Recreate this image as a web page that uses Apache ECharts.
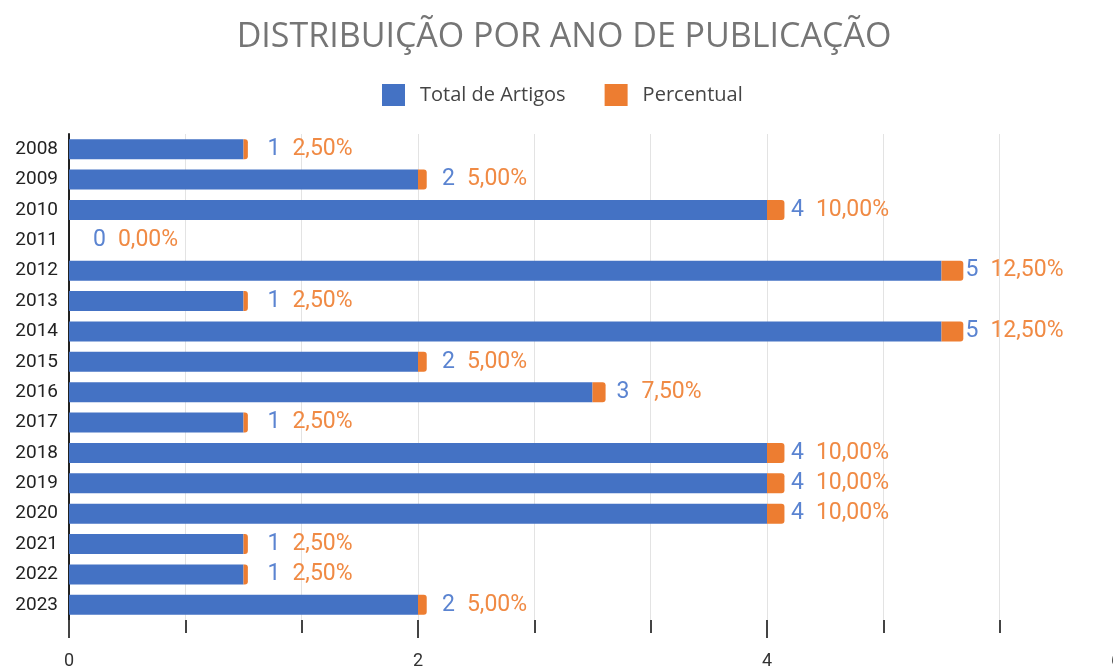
<!DOCTYPE html>
<html lang="pt">
<head>
<meta charset="UTF-8">
<title>Distribuição por ano de publicação</title>
<style>
  html, body { margin: 0; padding: 0; background: #fff; }
  #main { width: 1113px; height: 669px; }
</style>
</head>
<body>
<div id="main"></div>
<script src="https://cdn.jsdelivr.net/npm/echarts@6/dist/echarts.min.js"></script>
<script>
  var years = ['2008', '2009', '2010', '2011', '2012', '2013', '2014', '2015',
               '2016', '2017', '2018', '2019', '2020', '2021', '2022', '2023'];
  var totalArtigos = [1, 2, 4, 0, 5, 1, 5, 2, 3, 1, 4, 4, 4, 1, 1, 2];
  var percentual = [0.025, 0.05, 0.10, 0, 0.125, 0.025, 0.125, 0.05,
                    0.075, 0.025, 0.10, 0.10, 0.10, 0.025, 0.025, 0.05];
  var xTicks = [0, 2, 4, 6];

  var BLUE = '#4472c4';
  var ORANGE = '#ed7d31';

  function fmtPct(v) {
    return (v * 100).toFixed(2).replace('.', ',') + '%';
  }

  var myChart = echarts.init(document.getElementById('main'));
  var option = {
    animation: false,
    title: {
      text: 'DISTRIBUIÇÃO POR ANO DE PUBLICAÇÃO',
      left: 559,
      textAlign: 'center',
      top: 15,
      textStyle: {
        fontFamily: 'Open Sans',
        fontSize: 34,
        fontWeight: 'normal',
        color: '#757575'
      }
    },
    legend: {
      data: ['Total de Artigos', 'Percentual'],
      top: 79,
      left: 377,
      icon: 'rect',
      itemWidth: 23,
      itemHeight: 22,
      itemGap: 39,
      textStyle: {
        fontFamily: 'Open Sans',
        fontSize: 20,
        color: '#444',
        padding: [0, 0, 0, 10]
      }
    },
    grid: {
      left: 69,
      width: 1047,
      top: 134,
      bottom: 49,
      containLabel: false,
      outerBoundsMode: 'none'
    },
    xAxis: {
      type: 'value',
      min: xTicks[0],
      max: xTicks[xTicks.length - 1],
      interval: 2,
      axisLine: { show: false },
      axisTick: { show: true, length: 18, lineStyle: { color: '#444', width: 2 } },
      minorTick: { show: true, splitNumber: 3, length: 13, lineStyle: { color: '#444', width: 2 } },
      splitLine: { show: true, lineStyle: { color: '#e3e3e3', width: 1 } },
      minorSplitLine: { show: true, lineStyle: { color: '#e3e3e3', width: 1 } },
      axisLabel: {
        margin: 32,
        fontFamily: 'Roboto',
        fontSize: 18,
        color: '#333'
      }
    },
    yAxis: {
      type: 'category',
      data: years,
      inverse: true,
      axisLine: { show: true, lineStyle: { color: '#222', width: 2 } },
      axisTick: { show: false },
      axisLabel: {
        margin: 11,
        fontFamily: 'Roboto',
        fontSize: 19,
        color: '#222'
      }
    },
    series: [
      {
        name: 'Total de Artigos',
        type: 'bar',
        stack: 'total',
        barWidth: 20,
        data: totalArtigos,
        itemStyle: { color: BLUE },
        label: {
          show: true,
          position: 'right',
          distance: 24,
          formatter: function (p) {
            return '{a|' + p.value + '}{b|' + fmtPct(percentual[p.dataIndex]) + '}';
          },
          rich: {
            a: { fontFamily: 'Roboto', fontSize: 23, color: '#5b84d1' },
            b: { fontFamily: 'Roboto', fontSize: 23, color: '#f08a44', padding: [0, 0, 0, 12] }
          }
        }
      },
      {
        name: 'Percentual',
        type: 'bar',
        stack: 'total',
        barWidth: 20,
        data: percentual,
        itemStyle: { color: ORANGE, borderRadius: [0, 3, 3, 0] }
      }
    ]
  };
  option && myChart.setOption(option);

  window.addEventListener('resize', function () {
    myChart.resize();
  });
</script>
</body>
</html>
